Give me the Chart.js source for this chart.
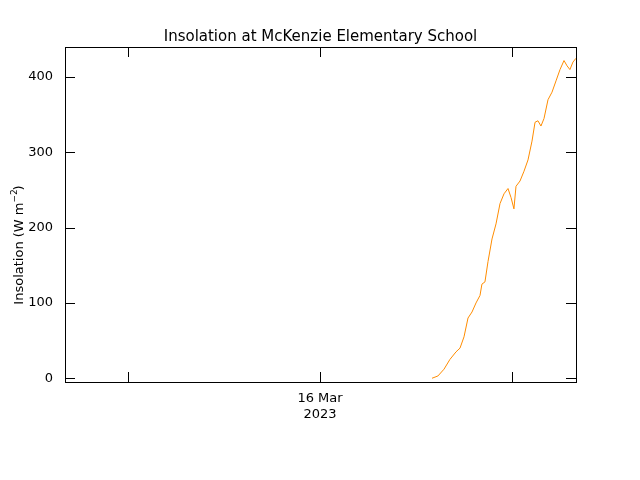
<!DOCTYPE html>
<html><head><script src="https://cdn.jsdelivr.net/npm/chart.js@4"></script>
<style>body{margin:0;background:#fff}</style></head>
<body><div style="width:640px;height:480px"><canvas id="c" width="640" height="480"></canvas></div>
<script>
const hours=[22.94,23.31,23.69,24.06,24.44,24.69,24.94,25.19,25.44,25.69,25.94,26.06,26.25,26.44,26.69,26.94,27.19,27.44,27.69,27.88,28.06,28.19,28.44,28.69,28.94,29.19,29.38,29.56,29.75,29.94,30.19,30.44,30.69,30.94,31.19,31.38,31.56,31.75,31.94];
const insolation=[0,3,12,25,35,40,55,80,88,100,110,125,128,155,185,205,232,245,252,240,225,255,262,275,290,315,340,342,335,345,370,380,395,410,422,415,410,420,425];
const xTicks=[3.94,15.94,27.94];
const xTickLabels=['',['16 Mar','2023'],''];
const yTicks=[0,100,200,300,400];
const F='"DejaVu Sans", sans-serif';
const tickPlugin={id:'tk',afterDraw(ch){const c=ch.ctx,a=ch.chartArea,x=ch.scales.x,y=ch.scales.y;c.save();c.strokeStyle='#000';c.lineWidth=1;c.strokeRect(a.left+0.5,a.top+0.5,a.right-a.left,a.bottom-a.top);c.beginPath();
xTicks.forEach(v=>{const p=Math.round(x.getPixelForValue(v))+0.5;c.moveTo(p,a.bottom);c.lineTo(p,a.bottom-10);c.moveTo(p,a.top);c.lineTo(p,a.top+10);});
yTicks.forEach(v=>{const p=Math.round(y.getPixelForValue(v))+0.5;c.moveTo(a.left,p);c.lineTo(a.left+10,p);c.moveTo(a.right,p);c.lineTo(a.right-10,p);});
c.stroke();c.fillStyle='#000';c.font='15px '+F;c.textAlign='center';c.fillText('Insolation at McKenzie Elementary School',(a.left+a.right)/2,41);
c.translate(23,(a.top+a.bottom)/2);c.rotate(-Math.PI/2);c.font='13px '+F;c.textAlign='right';c.fillText('Insolation (W m',12,0);c.textAlign='left';c.font='9px '+F;c.fillText('−2',12,-6);c.font='13px '+F;c.fillText(')',24,0);c.restore();}};
new Chart(document.getElementById('c'),{type:'line',
data:{datasets:[{data:hours.map((h,i)=>({x:h,y:insolation[i]})),borderColor:'#ff8c00',borderWidth:1,pointRadius:0,tension:0}]},
options:{responsive:false,animation:false,layout:{padding:{top:47,right:64}},
plugins:{legend:{display:false},tooltip:{enabled:false}},
scales:{x:{type:'linear',min:0,max:31.94,afterFit(s){s.height=98},afterBuildTicks(s){s.ticks=xTicks.map(v=>({value:v}))},
grid:{display:false},border:{display:false},ticks:{autoSkip:false,maxRotation:0,color:'#000',font:{family:F,size:13},padding:1,callback:(v,i)=>xTickLabels[i]}},
y:{min:-5,max:440,afterFit(s){s.width=65},afterBuildTicks(s){s.ticks=yTicks.map(v=>({value:v}))},grid:{display:false},border:{display:false},
ticks:{color:'#000',font:{family:F,size:13},padding:4}}}},plugins:[tickPlugin]});
</script></body></html>
